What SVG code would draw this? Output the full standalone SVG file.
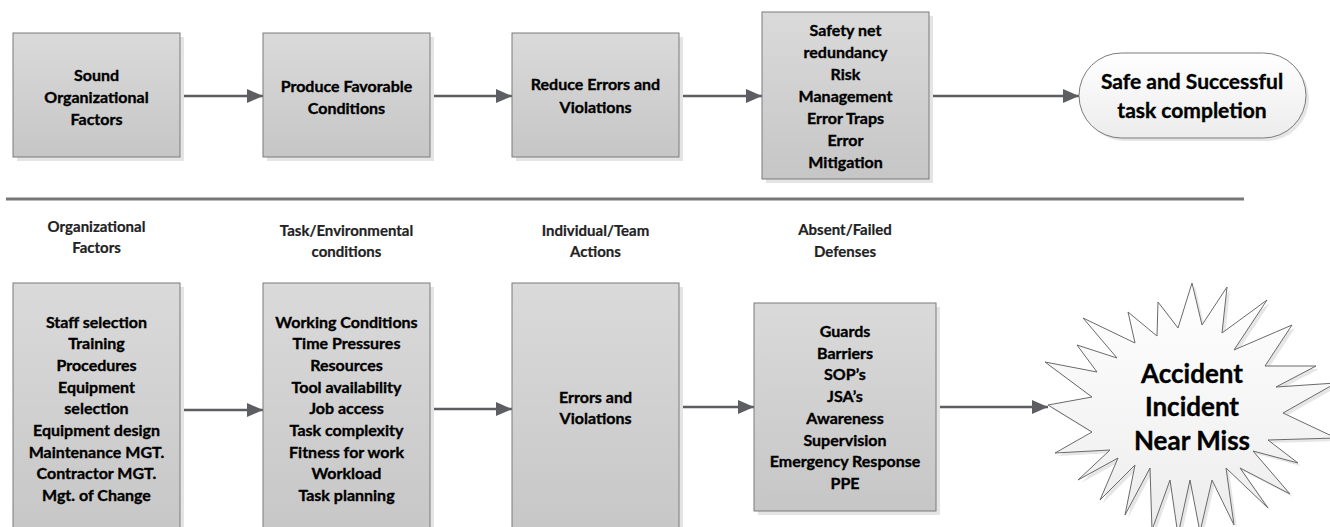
<svg xmlns="http://www.w3.org/2000/svg" width="1330" height="527" viewBox="0 0 1330 527">
<defs>
<linearGradient id="gBox" x1="0" y1="0" x2="0" y2="1">
<stop offset="0" stop-color="#dadada"/>
<stop offset="1" stop-color="#c6c6c6"/>
</linearGradient>
<linearGradient id="gLight" x1="0" y1="0" x2="0" y2="1">
<stop offset="0" stop-color="#ffffff"/>
<stop offset="1" stop-color="#ececec"/>
</linearGradient>
<marker id="arr" markerUnits="userSpaceOnUse" markerWidth="17" markerHeight="15" refX="16" refY="7" orient="auto">
<path d="M0,0 L16,7 L0,14 z" fill="#5d5e62"/>
</marker>
</defs>
<style>
.box{fill:url(#gBox);stroke:#7b7b7b;stroke-width:1}
.shadow{fill:#e4e4e4}
.t{font-family:Lato,"Liberation Sans",sans-serif;font-weight:bold;font-size:16px;fill:#000;stroke:#000;stroke-width:0.35;text-anchor:middle}
.lbl{font-family:Lato,"Liberation Sans",sans-serif;font-weight:bold;font-size:15px;fill:#222;stroke:#222;stroke-width:0.2;text-anchor:middle}
.big{font-size:21px}
.huge{font-size:26px}
.conn{stroke:#5d5e62;stroke-width:2.3;fill:none;marker-end:url(#arr)}
</style>

<g id="connectors">
<line class="conn" x1="180" y1="96" x2="263" y2="96"/>
<line class="conn" x1="430" y1="96" x2="512" y2="96"/>
<line class="conn" x1="679" y1="96" x2="762" y2="96"/>
<line class="conn" x1="929" y1="96" x2="1079" y2="96"/>
<line class="conn" x1="180" y1="410" x2="263" y2="410"/>
<line class="conn" x1="430" y1="409" x2="512" y2="409"/>
<line class="conn" x1="679" y1="407" x2="754" y2="407"/>
<line class="conn" x1="936" y1="407" x2="1048" y2="407"/>
</g>

<g id="divider">
<line x1="6" y1="199" x2="1244" y2="199" stroke="#777" stroke-width="3"/>
</g>

<g id="n1">
<rect class="shadow" x="17" y="37" width="167" height="124"/>
<rect class="box" x="13" y="33" width="167" height="124"/>
<text class="t" x="96.5" y="81">Sound</text>
<text class="t" x="96.5" y="103">Organizational</text>
<text class="t" x="96.5" y="125">Factors</text>
</g>
<g id="n2">
<rect class="shadow" x="267" y="37" width="167" height="124"/>
<rect class="box" x="263" y="33" width="167" height="124"/>
<text class="t" x="346.5" y="92">Produce Favorable</text>
<text class="t" x="346.5" y="114">Conditions</text>
</g>
<g id="n3">
<rect class="shadow" x="516" y="37" width="167" height="124"/>
<rect class="box" x="512" y="33" width="167" height="124"/>
<text class="t" x="595.5" y="90">Reduce Errors and</text>
<text class="t" x="595.5" y="113">Violations</text>
</g>
<g id="n4">
<rect class="shadow" x="766" y="16" width="167" height="167"/>
<rect class="box" x="762" y="12" width="167" height="167"/>
<text class="t" x="845.5" y="36">Safety net</text>
<text class="t" x="845.5" y="58">redundancy</text>
<text class="t" x="845.5" y="80">Risk</text>
<text class="t" x="845.5" y="102">Management</text>
<text class="t" x="845.5" y="124">Error Traps</text>
<text class="t" x="845.5" y="146">Error</text>
<text class="t" x="845.5" y="168">Mitigation</text>
</g>
<g id="n5">
<rect x="1082" y="56" width="227" height="85" rx="42.5" fill="#e6e6e6"/>
<rect x="1079" y="53" width="227" height="85" rx="42.5" fill="url(#gLight)" stroke="#7b7b7b" stroke-width="1"/>
<text class="t big" x="1192" y="89">Safe and Successful</text>
<text class="t big" x="1192" y="118">task completion</text>
</g>

<g id="labels">
<text class="lbl" x="96.5" y="232">Organizational</text>
<text class="lbl" x="96.5" y="253">Factors</text>
<text class="lbl" x="346.5" y="236">Task/Environmental</text>
<text class="lbl" x="346.5" y="257">conditions</text>
<text class="lbl" x="595.5" y="236">Individual/Team</text>
<text class="lbl" x="595.5" y="257">Actions</text>
<text class="lbl" x="845" y="235">Absent/Failed</text>
<text class="lbl" x="845" y="257">Defenses</text>
</g>

<g id="n6">
<rect class="shadow" x="17" y="287" width="167" height="260"/>
<rect class="box" x="13" y="283" width="167" height="260"/>
<text class="t" x="96.5" y="328">Staff selection</text>
<text class="t" x="96.5" y="349">Training</text>
<text class="t" x="96.5" y="371">Procedures</text>
<text class="t" x="96.5" y="393">Equipment</text>
<text class="t" x="96.5" y="414">selection</text>
<text class="t" x="96.5" y="436">Equipment design</text>
<text class="t" x="96.5" y="458">Maintenance MGT.</text>
<text class="t" x="96.5" y="479">Contractor MGT.</text>
<text class="t" x="96.5" y="501">Mgt. of Change</text>
</g>
<g id="n7">
<rect class="shadow" x="267" y="287" width="167" height="260"/>
<rect class="box" x="263" y="283" width="167" height="260"/>
<text class="t" x="346.5" y="328">Working Conditions</text>
<text class="t" x="346.5" y="349">Time Pressures</text>
<text class="t" x="346.5" y="371">Resources</text>
<text class="t" x="346.5" y="393">Tool availability</text>
<text class="t" x="346.5" y="414">Job access</text>
<text class="t" x="346.5" y="436">Task complexity</text>
<text class="t" x="346.5" y="458">Fitness for work</text>
<text class="t" x="346.5" y="479">Workload</text>
<text class="t" x="346.5" y="501">Task planning</text>
</g>
<g id="n8">
<rect class="shadow" x="516" y="287" width="167" height="260"/>
<rect class="box" x="512" y="283" width="167" height="260"/>
<text class="t" x="595.5" y="403">Errors and</text>
<text class="t" x="595.5" y="424">Violations</text>
</g>
<g id="n9">
<rect class="shadow" x="758" y="307" width="182" height="208"/>
<rect class="box" x="754" y="303" width="182" height="208"/>
<text class="t" x="845" y="337">Guards</text>
<text class="t" x="845" y="359">Barriers</text>
<text class="t" x="845" y="380">SOP’s</text>
<text class="t" x="845" y="402">JSA’s</text>
<text class="t" x="845" y="424">Awareness</text>
<text class="t" x="845" y="446">Supervision</text>
<text class="t" x="845" y="467">Emergency Response</text>
<text class="t" x="845" y="489">PPE</text>
</g>
<g id="n10">
<polygon transform="translate(3,3)" fill="#e6e6e6" points="1048,405 1092,397 1045,362 1097,372 1077,345 1117,358 1083,318 1135,343 1128,312 1157,336 1158,302 1178,328 1192,283 1202,325 1227,287 1222,333 1267,300 1234,350 1292,325 1265,366 1316,366 1276,387 1336,383 1283,413 1336,438 1268,440 1298,463 1253,451 1290,494 1240,468 1268,508 1226,468 1234,525 1212,480 1200,532 1190,480 1178,535 1170,480 1152,530 1150,468 1125,515 1135,465 1100,500 1118,458 1078,480 1110,450 1055,453 1092,432"/>
<polygon fill="url(#gLight)" stroke="#6a6a6a" stroke-width="1" points="1048,405 1092,397 1045,362 1097,372 1077,345 1117,358 1083,318 1135,343 1128,312 1157,336 1158,302 1178,328 1192,283 1202,325 1227,287 1222,333 1267,300 1234,350 1292,325 1265,366 1316,366 1276,387 1336,383 1283,413 1336,438 1268,440 1298,463 1253,451 1290,494 1240,468 1268,508 1226,468 1234,525 1212,480 1200,532 1190,480 1178,535 1170,480 1152,530 1150,468 1125,515 1135,465 1100,500 1118,458 1078,480 1110,450 1055,453 1092,432"/>
<text class="t huge" x="1192" y="383">Accident</text>
<text class="t huge" x="1192" y="416">Incident</text>
<text class="t huge" x="1192" y="450">Near Miss</text>
</g>
</svg>
